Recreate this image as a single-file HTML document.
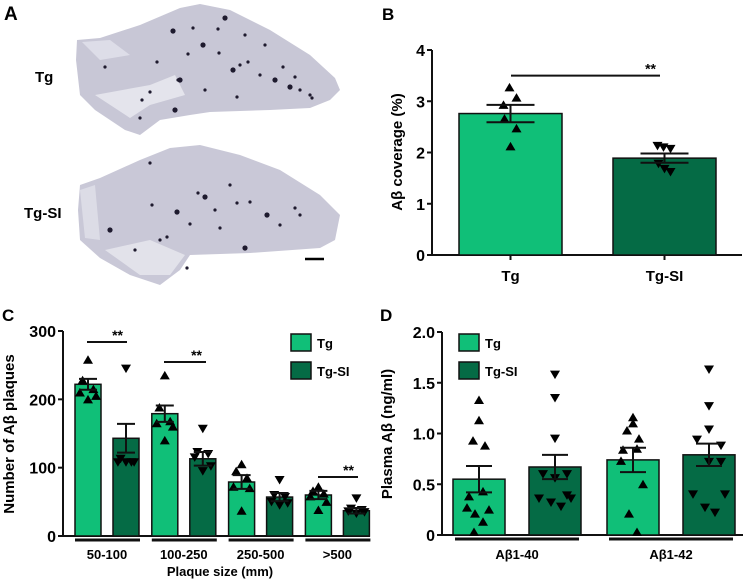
<!DOCTYPE html>
<html><head><meta charset="utf-8"><style>
body{margin:0;background:#fff;}
svg{display:block;font-family:"Liberation Sans",Arial,sans-serif;}
text{font-weight:bold;}
</style></head><body>
<svg id="fig" width="750" height="583" viewBox="0 0 750 583">
<g>
<text x="4" y="20" font-size="19">A</text>
<path d="M77,40 L100,38 L140,25 L180,8 L200,4 L230,10 L270,30 L310,55 L335,78 L340,90 L330,100 L310,108 L270,110 L210,112 L190,115 L160,120 L140,135 L125,130 L95,110 L80,95 L76,60 Z" fill="#c8c7d6"/>
<path d="M95,95 L150,85 L175,75 L185,95 L150,105 L130,118 Z" fill="#e4e4ec"/>
<path d="M82,42 L110,40 L130,55 L100,60 Z" fill="#dddde8"/>
<path d="M80,185 L100,178 L140,160 L170,148 L200,145 L240,155 L280,170 L320,195 L340,215 L335,240 L320,248 L250,253 L190,255 L180,270 L160,285 L130,275 L100,258 L80,240 L78,210 Z" fill="#c9c8d7"/>
<path d="M105,250 L150,240 L185,255 L170,275 L140,275 Z" fill="#e2e2ea"/>
<path d="M80,190 L95,185 L100,240 L85,238 Z" fill="#dcdce6"/>
<g id="dots"></g>
<text x="35" y="82" font-size="15">Tg</text>
<text x="24" y="218" font-size="15">Tg-SI</text>
<line x1="305" y1="259" x2="324" y2="259" stroke="#000" stroke-width="2.5"/>
</g>
<g id="pb">
<text x="382" y="20" font-size="17">B</text>
<text transform="translate(402,152) rotate(-90)" text-anchor="middle" font-size="15">Aβ coverage (%)</text>
</g>
<g id="pc">
<text x="2" y="321" font-size="17">C</text>
<text transform="translate(14,434) rotate(-90)" text-anchor="middle" font-size="15">Number of Aβ plaques</text>
<text x="220" y="576" text-anchor="middle" font-size="13">Plaque size (mm)</text>
</g>
<g id="pd">
<text x="380" y="321" font-size="17">D</text>
<text transform="translate(392,434) rotate(-90)" text-anchor="middle" font-size="15">Plasma Aβ (ng/ml)</text>
</g>
</svg>
<script>
// Panel B data
var bCats=["Tg","Tg-SI"];
var bMeans=[2.76,1.89];
var bSem=[0.17,0.09];
var bPts=[[3.27,3.07,2.93,2.66,2.47,2.12],[2.10,2.07,2.13,1.78,1.62,1.68]];
var bTicks=[0,1,2,3,4];
// Panel C data
var cCats=["50-100","100-250","250-500",">500"];
var cTg=[222,179,79,60];
var cSI=[143,113,57,37];
var cTgSem=[8,12,10,6];
var cSISem=[21,10,6,4];
var cTgPts=[[258,228,215,210,205,200],[235,188,168,165,160,140],[105,95,85,72,70,37],[72,66,62,58,50,38]];
var cSIPts=[[245,113,108,108,108,108],[157,123,120,115,102,95],[82,60,57,50,48,45],[55,40,38,36,35,33]];
var cTicks=[0,100,200,300];
// Panel D data
var dCats=["Aβ1-40","Aβ1-42"];
var dTg=[0.55,0.74];
var dSI=[0.67,0.79];
var dTgSem=[0.13,0.12];
var dSISem=[0.12,0.11];
var dTgPts=[[1.33,1.13,0.93,0.88,0.43,0.38,0.27,0.25,0.21,0.13,0.03],[1.16,1.10,1.03,0.95,0.85,0.84,0.73,0.50,0.21,0.03]];
var dSIPts=[[1.58,1.35,0.95,0.60,0.60,0.56,0.39,0.36,0.36,0.32,0.28],[1.63,1.27,1.04,0.94,0.88,0.72,0.72,0.40,0.40,0.27,0.22]];
var dTicks=["0","0.5","1.0","1.5","2.0"];

var NS="http://www.w3.org/2000/svg";
var LG="#10bf78",DG="#056b45";
function mk(p,t,a){var e=document.createElementNS(NS,t);for(var k in a)e.setAttribute(k,a[k]);p.appendChild(e);return e;}
function tri(p,x,y,up){var s=5;var d=up?("M"+(x-s)+","+(y+s*0.8)+"L"+(x+s)+","+(y+s*0.8)+"L"+x+","+(y-s*0.9)+"Z"):("M"+(x-s)+","+(y-s*0.8)+"L"+(x+s)+","+(y-s*0.8)+"L"+x+","+(y+s*0.9)+"Z");var e=mk(p,"path",{d:d,fill:"#000"});

}
function bar(p,x,w,y0,yv,col,name){var e=mk(p,"rect",{x:x,y:yv,width:w,height:y0-yv,fill:col,stroke:"#111","stroke-width":1.5});

}
function err(p,cx,yt,yb,hw){var g=mk(p,"g",{stroke:"#111","stroke-width":2});


mk(g,"line",{x1:cx,y1:yt,x2:cx,y2:yb});mk(g,"line",{x1:cx-hw,y1:yt,x2:cx+hw,y2:yt});mk(g,"line",{x1:cx-hw,y1:yb,x2:cx+hw,y2:yb});}
function spread(n,i,w){return n<=1?0:(i/(n-1)-0.5)*w;}
function axes(p,ax,ytop,y0,xend,ticks,ys,fs){
 var a=mk(p,"path",{d:"M"+ax+","+ytop+"L"+ax+","+y0+"L"+xend+","+y0,fill:"none",stroke:"#111","stroke-width":2});
 
 
 ticks.forEach(function(t,i){var y=ys(parseFloat(t));mk(p,"line",{x1:ax-5,y1:y,x2:ax,y2:y,stroke:"#111","stroke-width":2});
 var tx=mk(p,"text",{x:ax-7,y:y+6,"text-anchor":"end","font-size":fs});tx.textContent=t;
 
 });}
function legend(p,x,y){[["Tg",LG],["Tg-SI",DG]].forEach(function(l,i){var r=mk(p,"rect",{x:x,y:y+i*28,width:20,height:17,fill:l[1],stroke:"#111","stroke-width":1.5});


var t=mk(p,"text",{x:x+26,y:y+i*28+14,"font-size":13});t.textContent=l[0];

});}
function sig(p,x1,x2,y){mk(p,"line",{x1:x1,y1:y,x2:x2,y2:y,stroke:"#111","stroke-width":2});var t=mk(p,"text",{x:x2-4,y:y-2,"text-anchor":"end","font-size":14,"font-weight":"normal"});t.textContent="**";

}

// Panel B
(function(){var p=document.getElementById("pb");var y0=255,top=50;var ys=function(v){return y0-v*(y0-top)/4;};
axes(p,432,top,y0,742,bTicks.map(String),ys,16);
var xs=[459,613],w=103;
bCats.forEach(function(c,i){bar(p,xs[i],w,y0,ys(bMeans[i]),i?DG:LG,"bar-"+c.toLowerCase());var cx=xs[i]+w/2;
mk(p,"line",{x1:cx,y1:y0,x2:cx,y2:y0+5,stroke:"#111","stroke-width":2});
bPts[i].forEach(function(v,j){tri(p,cx+[-1,6,-7,-6,6,0][j],ys(v),i==0);});
err(p,cx,ys(bMeans[i]+bSem[i]),ys(bMeans[i]-bSem[i]),24);
var t=mk(p,"text",{x:cx,y:281,"text-anchor":"middle","font-size":15});t.textContent=c;

});
sig(p,511,660,ys(3.5));})();

// Panel C
(function(){var p=document.getElementById("pc");var y0=536,top=331;var ys=function(v){return y0-v*(y0-top)/300;};
axes(p,63,top,y0,370,cTicks.map(String),ys,16);
var w=26;
cCats.forEach(function(c,i){var gx=75+i*76.8;var x2=gx+38;
bar(p,gx,w,y0,ys(cTg[i]),LG,"bar-tg-"+c);bar(p,x2,w,y0,ys(cSI[i]),DG,"bar-tg-si-"+c);
var off=[0,-6,6,-9,9,0];
cTgPts[i].forEach(function(v,j){tri(p,gx+w/2+off[j]*0.9,ys(v),true);});
cSIPts[i].forEach(function(v,j){tri(p,x2+w/2+off[j]*0.9,ys(v),false);});
err(p,gx+w/2,ys(cTg[i]+cTgSem[i]),ys(cTg[i]-cTgSem[i]),9);
err(p,x2+w/2,ys(cSI[i]+cSISem[i]),ys(cSI[i]-cSISem[i]),9);
var u=mk(p,"line",{x1:gx,y1:540,x2:x2+w+1,y2:540,stroke:"#111","stroke-width":3});


var t=mk(p,"text",{x:(gx+x2+w)/2,y:559,"text-anchor":"middle","font-size":13});t.textContent=c;

});
sig(p,87,127,342);sig(p,164,206,362);sig(p,318,358,477);
legend(p,291,334);})();

// Panel D
(function(){var p=document.getElementById("pd");var y0=535,top=332;var ys=function(v){return y0-v*(y0-top)/2;};
axes(p,442,top,y0,743,dTicks,ys,16);
var w=52;
dCats.forEach(function(c,i){var gx=453+i*154;var x2=gx+76;
bar(p,gx,w,y0,ys(dTg[i]),LG,"bar-tg-"+c);bar(p,x2,w,y0,ys(dSI[i]),DG,"bar-tg-si-"+c);
var offA=[0,0,-6,6,4,-10,-12,10,-4,4,-5];
dTgPts[i].forEach(function(v,j){tri(p,gx+w/2+offA[j%offA.length],ys(v),true);});
var offB=[0,0,0,-12,12,0,12,-16,16,-4,6];
dSIPts[i].forEach(function(v,j){tri(p,x2+w/2+offB[j%offB.length],ys(v),false);});
err(p,gx+w/2,ys(dTg[i]+dTgSem[i]),ys(dTg[i]-dTgSem[i]),13);
err(p,x2+w/2,ys(dSI[i]+dSISem[i]),ys(dSI[i]-dSISem[i]),13);
var u=mk(p,"line",{x1:gx+2,y1:539,x2:x2+w-2,y2:539,stroke:"#111","stroke-width":3});


var t=mk(p,"text",{x:(gx+x2+w)/2,y:559,"text-anchor":"middle","font-size":13});t.textContent=c;

});
legend(p,459,334);})();

// Decorative plaque dots in panel A
(function(){var g=document.getElementById("dots");
var dotsTop=[[173,31],[193,28],[218,29],[245,35],[180,80],[178,80],[157,62],[105,67],[203,45],[219,53],[240,65],[248,62],[290,87],[300,90],[310,95],[312,98],[233,70],[260,75],[150,92],[142,100],[175,110],[140,118],[205,90],[237,97],[275,80],[265,45],[283,67],[295,77],[225,18],[188,54]];
var dotsBot=[[150,163],[198,193],[205,197],[215,210],[237,203],[250,202],[267,215],[295,208],[152,205],[167,237],[177,212],[190,224],[220,228],[280,225],[245,248],[160,240],[187,268],[135,250],[110,230],[230,185],[300,215]];
dotsTop.concat(dotsBot).forEach(function(d,i){var c=mk(g,"circle",{cx:d[0],cy:d[1],r:(i%4==0)?2.6:1.6,fill:"#1e1a2e"});

});})();
</script>
</body></html>
